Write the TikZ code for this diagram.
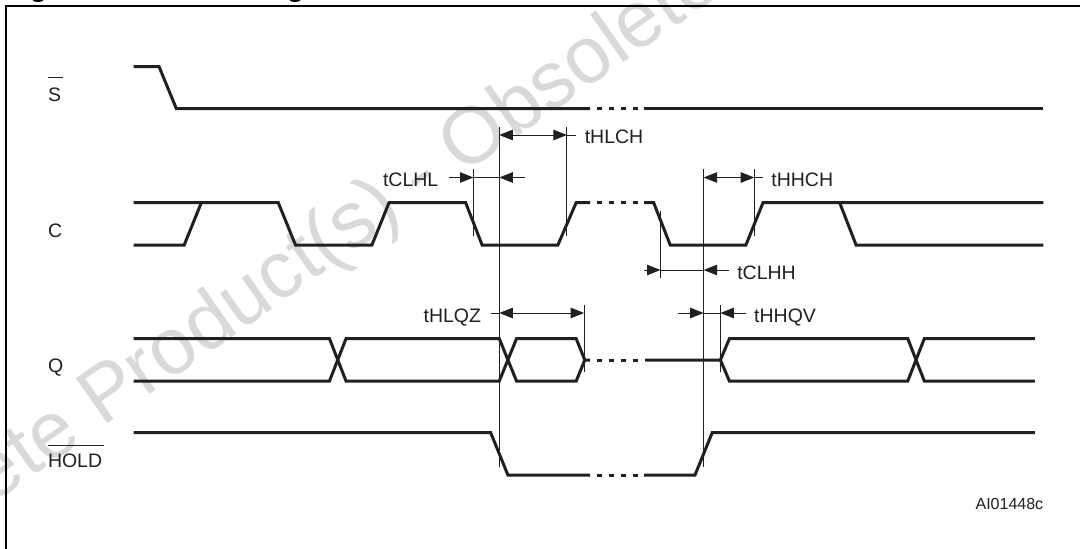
\documentclass[tikz,border=0pt]{standalone}
\usepackage{fontspec}
\setmainfont{Liberation Sans}
\usetikzlibrary{arrows.meta}
\definecolor{ink}{HTML}{231F20}
\definecolor{wmark}{HTML}{D9D9D9}
\tikzset{
  wave/.style={line width=3pt,color=ink,line join=miter,miter limit=10},
  thinline/.style={line width=1.1pt,color=ink},
  dimline/.style={line width=1.0pt,color=ink},
  tip/.style={-{Triangle[length=13.5pt,width=10.5pt]}},
  tips/.style={{Triangle[length=13.5pt,width=10.5pt]}-{Triangle[length=13.5pt,width=10.5pt]}},
  sig/.style={anchor=base west,inner sep=0pt,outer sep=0pt,text=ink,font=\fontsize{19.5}{22}\selectfont},
  bar/.style={line width=1pt,color=ink}
}
\begin{document}
\begin{tikzpicture}[x=1pt,y=-1pt]
\useasboundingbox (0,0) rectangle (1080,549);
\fill[white] (0,0) rectangle (1080,549);
% watermark
\begin{scope}
\clip (0,0) rectangle (1080,549);
\node[anchor=base west,inner sep=0pt,rotate=35,text=wmark,font=\fontsize{80}{100}\selectfont] (wm) at (102,428) {\llap{Obsolete }Product(s) - Obsolete Product(s)};
\end{scope}
% cropped title descenders
\fill[black] (38,0) ellipse (5.5pt and 2pt);
\fill[black] (295,0) ellipse (5.5pt and 2pt);
% frame
\draw[line width=2.2pt,black] (6,549) -- (6,6) -- (1080,6);

% S
\draw[wave] (133.6,66.5) -- (159,66.5) -- (176.3,108.5) -- (590,108.5);
\draw[wave] (644,108.5) -- (1043.4,108.5);
% C
\draw[wave] (133.6,202.5) -- (278.2,202.5) -- (295.5,245) -- (371.9,245) -- (389.1,202.5) -- (465.6,202.5) -- (482.1,245) -- (557.9,245) -- (576.2,202.5) -- (590,202.5);
\draw[wave] (133.6,245) -- (184.2,245) -- (201.4,202.5);
\draw[wave] (644,202.5) -- (653.6,202.5) -- (670.2,245) -- (745.9,245) -- (763.1,202.5) -- (1043.4,202.5);
\draw[wave] (839.6,202.5) -- (856.1,245) -- (1043.4,245);
% Q
\draw[wave] (133.6,338.7) -- (329.5,338.7) -- (346,381) -- (499.3,381) -- (516.5,338.7) -- (576.2,338.7) -- (584.8,360);
\draw[wave] (133.6,381) -- (329.5,381) -- (346,338.7) -- (499.3,338.7) -- (516.5,381) -- (576.2,381) -- (584.8,360) -- (590,360);
\draw[wave] (645,360) -- (720.4,360) -- (729.4,338.7) -- (907.8,338.7) -- (924.3,381) -- (1034.8,381);
\draw[wave] (720.4,360) -- (729.4,381) -- (907.8,381) -- (924.3,338.7) -- (1034.8,338.7);
% HOLD
\draw[wave] (133.6,432.7) -- (490.7,432.7) -- (507.9,475) -- (590,475);
\draw[wave] (644,475) -- (695,475) -- (712.2,432.7) -- (1034.8,432.7);
% break dashes
\foreach \yy in {108.5,202.5,360,475}{
  \foreach \xa/\xb in {596.7/601.7,608.7/614,620.7/626,632.5/638}{
    \draw[wave] (\xa,\yy) -- (\xb,\yy);
  }
}

% reference verticals
\coordinate (va1) at (499.3,127);  \coordinate (va2) at (499.3,467);
\coordinate (vb1) at (566.9,127);  \coordinate (vb2) at (566.9,236);
\coordinate (vc1) at (473.5,169);  \coordinate (vc2) at (473.5,236);
\coordinate (vd1) at (703.6,169);  \coordinate (vd2) at (703.6,467);
\coordinate (ve1) at (754.2,169);  \coordinate (ve2) at (754.2,236);
\coordinate (vf1) at (660.5,211);  \coordinate (vf2) at (660.5,278);
\coordinate (vg1) at (584.1,305);  \coordinate (vg2) at (584.1,372);
\coordinate (vh1) at (720.4,305);  \coordinate (vh2) at (720.4,372);
\draw[thinline] (va1) -- (va2);
\draw[thinline] (vb1) -- (vb2);
\draw[thinline] (vc1) -- (vc2);
\draw[thinline] (vd1) -- (vd2);
\draw[thinline] (ve1) -- (ve2);
\draw[thinline] (vf1) -- (vf2);
\draw[thinline] (vg1) -- (vg2);
\draw[thinline] (vh1) -- (vh2);

% tHLCH
\coordinate (hlcha) at (499.3,135); \coordinate (hlchb) at (566.9,135); \coordinate (hlchc) at (576,135);
\draw[dimline,tips] (hlcha) -- (hlchb);
\draw[dimline] (hlchb) -- (hlchc);
% tCLHL
\coordinate (clhla) at (448.7,177.5); \coordinate (clhlb) at (473.5,177.5); \coordinate (clhlc) at (499.3,177.5); \coordinate (clhld) at (524.5,177.5);
\draw[dimline,tip] (clhla) -- (clhlb);
\draw[dimline,tip] (clhld) -- (clhlc);
\draw[dimline] (clhlb) -- (clhlc);
% tHHCH
\coordinate (hhcha) at (703.6,177.5); \coordinate (hhchb) at (754.2,177.5); \coordinate (hhchc) at (763,177.5);
\draw[dimline,tips] (hhcha) -- (hhchb);
\draw[dimline] (hhchb) -- (hhchc);
% tCLHH
\coordinate (clhha) at (644.3,270); \coordinate (clhhb) at (660.5,270); \coordinate (clhhc) at (703.6,270); \coordinate (clhhd) at (728.7,270);
\draw[dimline,tip] (clhha) -- (clhhb);
\draw[dimline,tip] (clhhd) -- (clhhc);
\draw[dimline] (clhhb) -- (clhhc);
% tHLQZ
\coordinate (hlqza) at (490.7,313); \coordinate (hlqzb) at (499.3,313); \coordinate (hlqzc) at (584.1,313);
\draw[dimline] (hlqza) -- (hlqzb);
\draw[dimline,tips] (hlqzb) -- (hlqzc);
% tHHQV
\coordinate (hhqva) at (678.4,313); \coordinate (hhqvb) at (703.6,313); \coordinate (hhqvc) at (720.4,313); \coordinate (hhqvd) at (746,313);
\draw[dimline,tip] (hhqva) -- (hhqvb);
\draw[dimline,tip] (hhqvd) -- (hhqvc);
\draw[dimline] (hhqvb) -- (hhqvc);

% labels
\node[sig] (ls) at (48,101) {S};
\draw[bar] (48,77.5) -- (62.7,77.5);
\node[sig] (lc) at (48,237) {C};
\node[sig] (lq) at (48,372) {Q};
\node[sig] (lh) at (48,467) {HOLD};
\draw[bar] (48,445) -- (103.6,445);
\node[sig] (t1) at (584.8,143) {tHLCH};
\node[sig] (t2) at (383,186) {tCLHL};
\node[sig] (t3) at (771.4,186) {tHHCH};
\node[sig] (t4) at (737.3,279) {tCLHH};
\node[sig] (t5) at (423.6,322) {tHLQZ};
\node[sig] (t6) at (754.2,322) {tHHQV};
\node[anchor=base east,inner sep=0pt,text=ink,font=\fontsize{16}{18}\selectfont] (ai) at (1043.4,509) {AI01448c};
\end{tikzpicture}
\end{document}
